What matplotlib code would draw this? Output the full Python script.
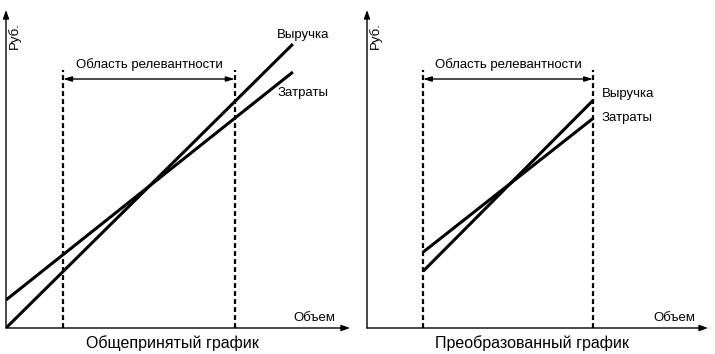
import matplotlib
matplotlib.use('Agg')
from matplotlib import pyplot as plt

plt.rcParams['font.family'] = ['Liberation Sans', 'DejaVu Sans']

# volume / roubles, both in 0..100 units of each panel
left_volume = [0, 83.4]
left_revenue = [0, 89.3]
left_costs = [8.8, 80.5]

right_volume = [16.5, 66.4]
right_revenue = [17.9, 71.7]
right_costs = [23.9, 66.0]

relevant_range = [16.6, 66.5]

titles = ['Общепринятый график', 'Преобразованный график']
revenue_label = 'Выручка'
costs_label = 'Затраты'
relevance_label = 'Область релевантности'
x_label = 'Объем'
y_label = 'Руб.'

W, H = 715, 354
fig = plt.figure(figsize=(W / 100, H / 100), dpi=100)
fig.patch.set_facecolor('white')


def make_axes(left_px, width_px):
    ax = fig.add_axes([left_px / W, (H - 328) / H, width_px / W, 318 / H])
    ax.set_xlim(0, 100)
    ax.set_ylim(0, 100)
    ax.axis('off')
    arrow = dict(arrowstyle='-|>,head_length=0.5,head_width=0.18',
                 color='black', lw=1.0, shrinkA=0, shrinkB=0)
    ax.annotate('', xy=(1, 0), xytext=(0, 0), xycoords='axes fraction',
                arrowprops=arrow, annotation_clip=False)
    ax.annotate('', xy=(0, 1), xytext=(0, 0), xycoords='axes fraction',
                arrowprops=arrow, annotation_clip=False)
    return ax


def relevance(ax, xs):
    for x in xs:
        ax.plot([x, x], [0, 81.1], color='black', lw=1.6,
                dashes=(2.2, 1.4), clip_on=False, solid_capstyle='butt')
    ax.annotate('', xy=(xs[0], 78.3), xytext=(xs[1], 78.3),
                arrowprops=dict(arrowstyle='<|-|>,head_length=0.5,head_width=0.15',
                                color='black', lw=1.0, shrinkA=0, shrinkB=0))
    ax.text(sum(xs) / 2, 82.7, relevance_label, ha='center', va='center',
            fontsize=9.5)


def decorate(ax, title, x_lab_x):
    ax.text(x_lab_x, 3.1, x_label, ha='left', va='center', fontsize=9.5)
    ax.text(2.4, 92, y_label, ha='center', va='center', rotation=90,
            fontsize=9.5)
    ax.text(48.5, -4.8, title, ha='center', va='center', fontsize=11.5,
            clip_on=False)


ax1 = make_axes(6, 344)
relevance(ax1, relevant_range)
ax1.plot(left_volume, left_revenue, color='black', lw=2.2,
         solid_capstyle='butt')
ax1.plot(left_volume, left_costs, color='black', lw=2.2,
         solid_capstyle='butt')
ax1.text(78.8, 92.1, revenue_label, ha='left', va='center', fontsize=9.5)
ax1.text(78.8, 73.9, costs_label, ha='left', va='center', fontsize=9.5)
decorate(ax1, titles[0], 83.4)

ax2 = make_axes(367, 341)
relevance(ax2, [16.4, 66.3])
ax2.plot(right_volume, right_revenue, color='black', lw=2.2,
         solid_capstyle='butt')
ax2.plot(right_volume, right_costs, color='black', lw=2.2,
         solid_capstyle='butt')
ax2.text(68.9, 73.6, revenue_label, ha='left', va='center', fontsize=9.5)
ax2.text(68.9, 66.0, costs_label, ha='left', va='center', fontsize=9.5)
decorate(ax2, titles[1], 83.9)

fig.savefig('out.png', dpi=100)
